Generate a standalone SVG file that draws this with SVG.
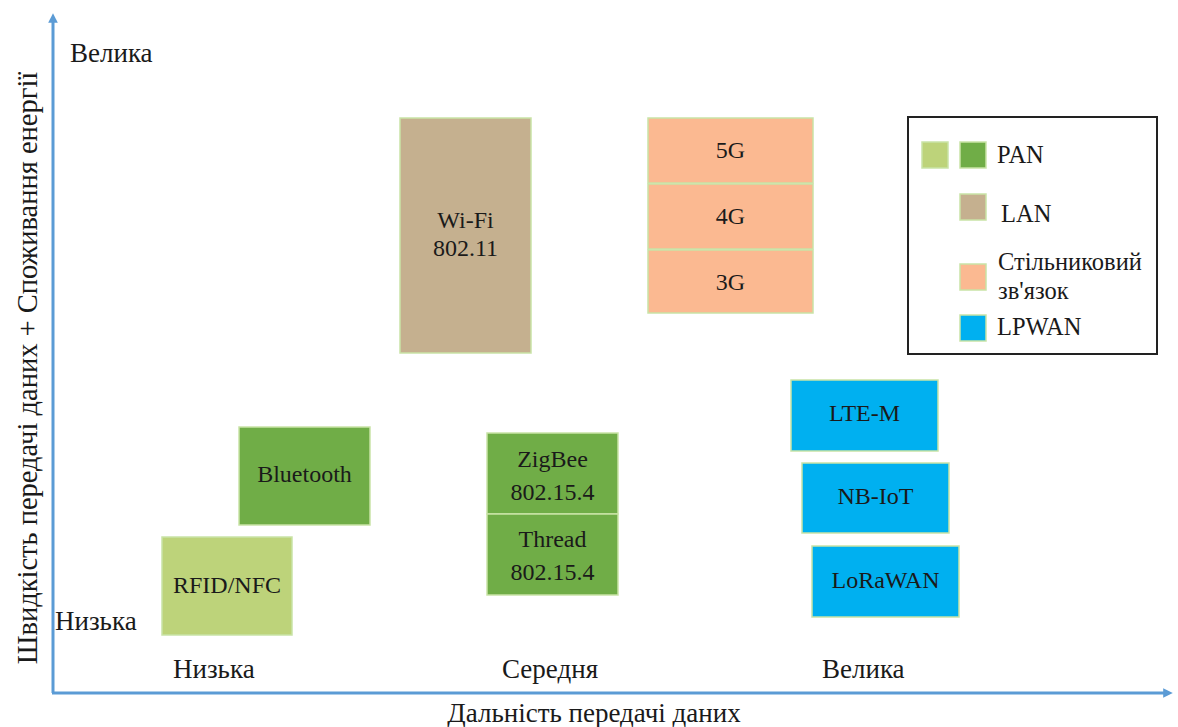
<svg xmlns="http://www.w3.org/2000/svg" width="1178" height="727" viewBox="0 0 1178 727" font-family="Liberation Serif, Times New Roman, DejaVu Serif, serif">
<style>
text{font-family:'Liberation Serif','Times New Roman','DejaVu Serif',serif;fill:#1a1a1a}
.t{font-size:24px;text-anchor:middle}
.a{font-size:27px}
.lg{font-size:24.5px}
.box{stroke:#C9E3A6;stroke-width:1.5}
.pl{fill:#BDD37A}.pd{fill:#70AD47}.lan{fill:#C5B08F}.cel{fill:#FBB991}.lp{fill:#00B0F0}
.ax{stroke:#5B9BD5;stroke-width:3;fill:none}
</style>
<defs>
<marker id="ar" viewBox="0 0 10 10" refX="5" refY="5" markerWidth="3.2" markerHeight="3.2" orient="auto">
<path d="M0,0 L10,5 L0,10 z" fill="#5B9BD5"/>
</marker>
</defs>
<rect width="1178" height="727" fill="#fff"/>
<g id="axes">
<path class="ax" d="M53,693 L53,18" marker-end="url(#ar)"/>
<path class="ax" d="M52,693 L1168,693" marker-end="url(#ar)"/>
</g>
<g id="axis-labels">
<text class="a" style="font-size:28.5px" x="0" y="0" transform="translate(37,368) rotate(-90)" text-anchor="middle">Швидкість передачі даних + Споживання енергії</text>
<text class="a" x="70" y="62">Велика</text>
<text class="a" x="55" y="630">Низька</text>
<text class="a" x="173" y="678">Низька</text>
<text class="a" x="502" y="678">Середня</text>
<text class="a" x="822" y="678">Велика</text>
<text class="a" x="594" y="722" text-anchor="middle">Дальність передачі даних</text>
</g>
<g id="wifi"><rect class="box lan" x="400" y="118" width="131" height="235"/><text class="t" x="465.5" y="228">Wi-Fi</text><text class="t" x="465.5" y="256">802.11</text></g>
<g id="g5"><rect class="box cel" x="648" y="118" width="165" height="65"/><text class="t" x="730.5" y="158">5G</text></g>
<g id="g4"><rect class="box cel" x="648" y="184" width="165" height="65"/><text class="t" x="730.5" y="224">4G</text></g>
<g id="g3"><rect class="box cel" x="648" y="250" width="165" height="63"/><text class="t" x="730.5" y="290">3G</text></g>
<g id="bluetooth"><rect class="box pd" x="239" y="427" width="131" height="98"/><text class="t" x="304.5" y="482">Bluetooth</text></g>
<g id="rfid"><rect class="box pl" x="162" y="537" width="130" height="98"/><text class="t" x="227" y="593">RFID/NFC</text></g>
<g id="zigbee"><rect class="box pd" x="487" y="433" width="131" height="81"/><text class="t" x="552.5" y="467">ZigBee</text><text class="t" x="552.5" y="500">802.15.4</text></g>
<g id="thread"><rect class="box pd" x="487" y="514" width="131" height="81"/><text class="t" x="552.5" y="547">Thread</text><text class="t" x="552.5" y="580">802.15.4</text></g>
<g id="ltem"><rect class="box lp" x="791" y="380" width="147" height="71"/><text class="t" x="864.5" y="421">LTE-M</text></g>
<g id="nbiot"><rect class="box lp" x="802" y="463" width="147" height="70"/><text class="t" x="875.5" y="504">NB-IoT</text></g>
<g id="lorawan"><rect class="box lp" x="812" y="546" width="147" height="71"/><text class="t" x="885.5" y="588">LoRaWAN</text></g>
<g id="legend">
<rect x="908" y="117" width="249" height="237" fill="#fff" stroke="#222" stroke-width="2"/>
<rect class="box pl" x="922" y="142" width="26" height="26"/>
<rect class="box pd" x="960" y="142" width="26" height="26"/>
<text class="lg" x="997" y="163">PAN</text>
<rect class="box lan" x="960" y="194" width="26" height="26"/>
<text class="lg" x="1001" y="222">LAN</text>
<rect class="box cel" x="960" y="264" width="26" height="26"/>
<text class="lg" x="998" y="270">Стільниковий</text>
<text class="lg" x="998" y="299">зв'язок</text>
<rect class="box lp" x="960" y="315" width="26" height="26"/>
<text class="lg" x="997" y="335">LPWAN</text>
</g>
</svg>
